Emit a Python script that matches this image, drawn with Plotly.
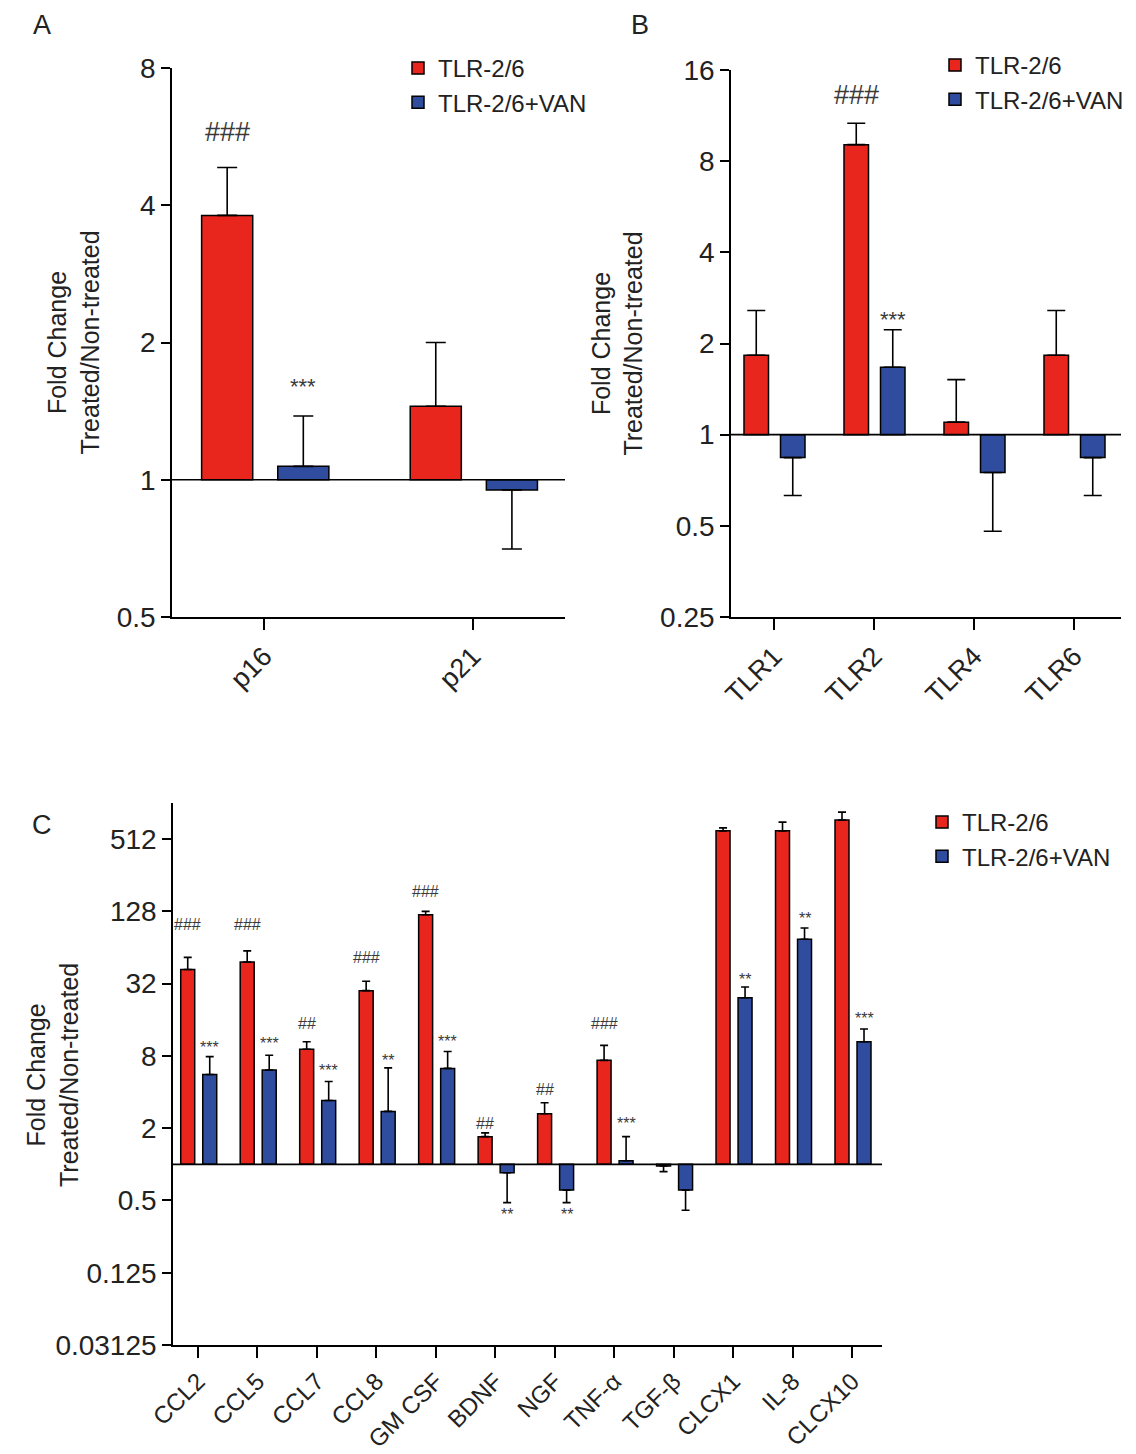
import math
import plotly.graph_objects as go

RED = "#E8261E"
BLUE = "#2F4C9E"
FONT = "Liberation Sans"
TXT = "#222222"

# ---------------- Panel A ----------------
a_cats = ["p16", "p21"]
a_red = [3.8, 1.45]
a_red_err = [1.04, 0.55]
a_blue = [1.07, 0.95]
a_blue_err = [0.31, 0.245]
a_red_sig = ["###", ""]
a_red_sig_y = [5.8, None]
a_blue_sig = ["***", ""]
a_blue_sig_y = [1.6, None]
a_ticks = [0.5, 1, 2, 4, 8]

# ---------------- Panel B ----------------
b_cats = ["TLR1", "TLR2", "TLR4", "TLR6"]
b_red = [1.83, 9.07, 1.10, 1.83]
b_red_err = [0.74, 1.6, 0.42, 0.74]
b_blue = [0.84, 1.67, 0.75, 0.84]
b_blue_err = [0.21, 0.55, 0.27, 0.21]
b_red_sig = ["", "###", "", ""]
b_red_sig_y = [None, 13.2, None, None]
b_blue_sig = ["", "***", "", ""]
b_blue_sig_y = [None, 2.4, None, None]
b_ticks = [0.25, 0.5, 1, 2, 4, 8, 16]

# ---------------- Panel C ----------------
c_cats = ["CCL2", "CCL5", "CCL7", "CCL8", "GM CSF", "BDNF", "NGF",
          "TNF-α", "TGF-β", "CLCX1", "IL-8", "CLCX10"]
c_red = [42, 48.5, 9.1, 28, 120, 1.7, 2.64, 7.35, 0.97, 600, 600, 739]
c_red_err = [11, 11.5, 1.4, 5.5, 8, 0.13, 0.62, 2.45, 0.10, 35, 109, 121]
c_blue = [5.6, 6.1, 3.4, 2.76, 6.3, 0.85, 0.61, 1.07, 0.61, 24.4, 75, 10.5]
c_blue_err = [2.3, 2.0, 1.5, 3.6, 2.4, 0.37, 0.13, 0.63, 0.195, 5.6, 18, 2.9]
c_red_sig = ["###", "###", "##", "###", "###", "##", "##", "###", "", "###", "###", "###"]
c_red_sig_y = [99, 99, 15, 53, 189, 2.2, 4.2, 15, None, 1280, 1280, 1280]
c_blue_sig = ["***", "***", "***", "**", "***", "**", "**", "***", "", "**", "**", "***"]
c_blue_sig_y = [9.45, 10.1, 6.1, 7.4, 10.5, 0.38, 0.38, 2.2, None, 35, 112, 16.3]
c_ticks = [0.03125, 0.125, 0.5, 2, 8, 32, 128, 512]

YTITLE = "Fold Change<br>Treated/Non-treated"

# figure size (page body adds an 8px margin in the browser)
W, H = 1128, 1446
OFF = 8


def px(x):
    return (x - OFF) / W


def py(y):
    return 1 - (y - OFF) / H


def xd(a, b):
    return [px(a), px(b)]


def yd(top, bottom):
    return [py(bottom), py(top)]


fig = go.Figure()


def add_bars(cats, vals, errs, color, name, xa, ya, legend, offset, width, capw):
    plus = [e if v >= 1 else 0 for v, e in zip(vals, errs)]
    minus = [0 if v >= 1 else e for v, e in zip(vals, errs)]
    fig.add_trace(go.Bar(
        x=cats, y=[v - 1 for v in vals], base=1, name=name,
        marker=dict(color=color, line=dict(color="black", width=1.5)),
        offset=offset, width=width, xaxis=xa, yaxis=ya, legend=legend,
        error_y=dict(type="data", symmetric=False, array=plus, arrayminus=minus,
                     color="black", thickness=1.6, width=capw),
        customdata=vals,
        hovertemplate="%{x}: %{customdata}<extra>" + name + "</extra>",
    ))


def add_sig(labels, levels, xref, yref, center, size):
    for i, (lab, lev) in enumerate(zip(labels, levels)):
        if not lab or lev is None:
            continue
        fig.add_annotation(x=i + center, y=math.log10(lev), xref=xref, yref=yref,
                           text=lab, showarrow=False,
                           font=dict(family=FONT, size=size, color="#3a3a3a"),
                           xanchor="center", yanchor="middle")


AB_RED_OFF, AB_BLUE_OFF, AB_W = -0.30, 0.065, 0.245
C_RED_OFF, C_BLUE_OFF, C_W = -0.29, 0.08, 0.235

# Panel A
add_bars(a_cats, a_red, a_red_err, RED, "TLR-2/6", "x", "y", "legend", AB_RED_OFF, AB_W, 10)
add_bars(a_cats, a_blue, a_blue_err, BLUE, "TLR-2/6+VAN", "x", "y", "legend", AB_BLUE_OFF, AB_W, 10)
add_sig(a_red_sig, a_red_sig_y, "x", "y", AB_RED_OFF + AB_W / 2, 27)
add_sig(a_blue_sig, a_blue_sig_y, "x", "y", AB_BLUE_OFF + AB_W / 2, 22)

# Panel B
add_bars(b_cats, b_red, b_red_err, RED, "TLR-2/6", "x2", "y2", "legend2", AB_RED_OFF, AB_W, 9)
add_bars(b_cats, b_blue, b_blue_err, BLUE, "TLR-2/6+VAN", "x2", "y2", "legend2", AB_BLUE_OFF, AB_W, 9)
add_sig(b_red_sig, b_red_sig_y, "x2", "y2", AB_RED_OFF + AB_W / 2, 27)
add_sig(b_blue_sig, b_blue_sig_y, "x2", "y2", AB_BLUE_OFF + AB_W / 2, 22)

# Panel C
add_bars(c_cats, c_red, c_red_err, RED, "TLR-2/6", "x3", "y3", "legend3", C_RED_OFF, C_W, 4)
add_bars(c_cats, c_blue, c_blue_err, BLUE, "TLR-2/6+VAN", "x3", "y3", "legend3", C_BLUE_OFF, C_W, 4)
add_sig(c_red_sig, c_red_sig_y, "x3", "y3", C_RED_OFF + C_W / 2, 16)
add_sig(c_blue_sig, c_blue_sig_y, "x3", "y3", C_BLUE_OFF + C_W / 2, 16)


def fmt(v):
    return "%g" % v


axis_common = dict(showline=True, linecolor="black", linewidth=1.6, ticks="outside",
                   tickcolor="black", tickwidth=1.6, showgrid=False, zeroline=False,
                   automargin=False)

fig.update_layout(
    width=W, height=H, margin=dict(l=0, r=0, t=0, b=0),
    paper_bgcolor="white", plot_bgcolor="white", barmode="overlay",
    font=dict(family=FONT, color=TXT),
    xaxis=dict(domain=xd(172, 565), range=[-0.442, 1.442], anchor="y",
               tickangle=-45, ticklen=11, tickfont=dict(size=27), **axis_common),
    yaxis=dict(domain=yd(68, 617), type="log",
               range=[math.log10(0.5), math.log10(8)], anchor="x",
               tickvals=a_ticks, ticktext=[fmt(v) for v in a_ticks], ticklen=9,
               tickfont=dict(size=28),
               title=dict(text=YTITLE, font=dict(size=25), standoff=10), **axis_common),
    xaxis2=dict(domain=xd(731, 1121), range=[-0.43, 3.47], anchor="y2",
                tickangle=-45, ticklen=11, tickfont=dict(size=27), **axis_common),
    yaxis2=dict(domain=yd(70, 617), type="log",
                range=[math.log10(0.25), math.log10(16)], anchor="x2",
                tickvals=b_ticks, ticktext=[fmt(v) for v in b_ticks], ticklen=9,
                tickfont=dict(size=28),
                title=dict(text=YTITLE, font=dict(size=25), standoff=10), **axis_common),
    xaxis3=dict(domain=xd(173, 882), range=[-0.42, 11.5], anchor="y3",
                tickangle=-45, ticklen=11, tickfont=dict(size=24), **axis_common),
    yaxis3=dict(domain=yd(803, 1345), type="log",
                range=[math.log10(0.03125), math.log10(1024)], anchor="x3",
                tickvals=c_ticks, ticktext=[fmt(v) for v in c_ticks], ticklen=9,
                tickfont=dict(size=28), **axis_common),
    legend=dict(x=px(398), y=py(46), xanchor="left", yanchor="top",
                font=dict(size=24), bgcolor="rgba(0,0,0,0)", tracegroupgap=0),
    legend2=dict(x=px(935), y=py(43), xanchor="left", yanchor="top",
                 font=dict(size=24), bgcolor="rgba(0,0,0,0)", tracegroupgap=0),
    legend3=dict(x=px(922), y=py(800), xanchor="left", yanchor="top",
                 font=dict(size=24), bgcolor="rgba(0,0,0,0)", tracegroupgap=0),
)

# y-axis title of panel C (as rotated text left of the axis)
fig.add_annotation(x=px(52), y=py(1075), xref="paper", yref="paper", text=YTITLE,
                   showarrow=False, textangle=-90,
                   font=dict(family=FONT, size=25, color=TXT),
                   xanchor="center", yanchor="middle")

# baseline at fold change = 1
for xr, yr in [("x", "y"), ("x2", "y2"), ("x3", "y3")]:
    fig.add_shape(type="line", xref=xr + " domain", yref=yr, x0=0, x1=1, y0=1, y1=1,
                  line=dict(color="black", width=1.6))

# panel letters
for lab, lx, ly in [("A", 42, 25), ("B", 640, 25), ("C", 42, 825)]:
    fig.add_annotation(x=px(lx), y=py(ly), xref="paper", yref="paper", text=lab,
                       showarrow=False, font=dict(family=FONT, size=27, color=TXT),
                       xanchor="center", yanchor="middle")

fig.write_html("out.html")
